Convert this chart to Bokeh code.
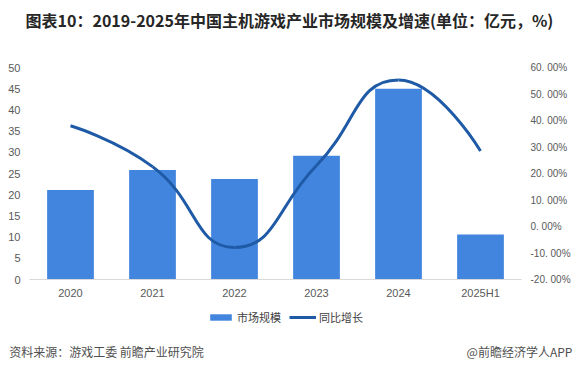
import math
from bokeh.plotting import figure
from bokeh.layouts import column
from bokeh.models import Range1d, LinearAxis, FixedTicker, Legend, LegendItem
from bokeh.embed import file_html
from bokeh.resources import INLINE

# ---- data ----
categories = ["2020", "2021", "2022", "2023", "2024", "2025H1"]
market_size = [21.1, 25.8, 23.7, 29.2, 45.0, 10.6]      # 亿元
growth = [38.0, 22.6, -7.9, 23.0, 55.3, 28.5]            # %
left_ticks = [0, 5, 10, 15, 20, 25, 30, 35, 40, 45, 50]
right_ticks = [-20, -10, 0, 10, 20, 30, 40, 50, 60]
right_tick_labels = ["-20. 00%", "-10. 00%", "0. 00%", "10. 00%", "20. 00%",
                     "30. 00%", "40. 00%", "50. 00%", "60. 00%"]
series_names = ["市场规模", "同比增长"]

title_text = "图表10：2019-2025年中国主机游戏产业市场规模及增速(单位：亿元，%)"
title_center = [260]          # px from the frame's left edge
footer_texts = ["资料来源：游戏工委 前瞻产业研究院", "@前瞻经济学人APP"]
footer_centers = [77, 490]    # px from the frame's left edge

xs = list(range(len(categories)))

BAR_COLOR = "#4285DE"
LINE_COLOR = "#1F5AA6"
TICK_COLOR = "#595959"
CJK = "Noto Sans CJK SC"
LAT = "Liberation Sans"
W = 579
BL, BR = 29, 58
FRAME_W = W - BL - BR


def plain_axis(ax, font, size, color, standoff):
    ax.axis_line_color = None
    ax.major_tick_line_color = None
    ax.minor_tick_line_color = None
    ax.major_tick_out = 0
    ax.major_tick_in = 0
    ax.minor_tick_out = 0
    ax.minor_tick_in = 0
    ax.major_label_standoff = standoff
    ax.major_label_text_font = font
    ax.major_label_text_font_size = size
    ax.major_label_text_color = color


def strip_fig(h, top, bottom):
    f = figure(width=W, height=h, output_backend="svg", toolbar_location=None,
               x_range=Range1d(0, FRAME_W), y_range=Range1d(0, 1), y_axis_type=None,
               min_border_left=BL, min_border_right=BR,
               min_border_top=top, min_border_bottom=bottom)
    f.outline_line_color = None
    f.xgrid.visible = False
    f.ygrid.visible = False
    return f


# ================= header: title as a text-only axis =================
head = strip_fig(40, 0, 39)
ha = head.xaxis[0]
ha.ticker = FixedTicker(ticks=title_center)
ha.major_label_overrides = {title_center[0]: title_text}
plain_axis(ha, CJK, "16px", "#262626", 6)
ha.major_label_text_font_style = "bold"

# ================= main chart =================
p = figure(width=W, height=261, output_backend="svg", toolbar_location=None,
           x_range=Range1d(-0.5, len(categories) - 0.5), y_range=Range1d(0, 50),
           min_border_left=BL, min_border_right=BR, min_border_top=27, min_border_bottom=21)
p.outline_line_color = None
p.xgrid.visible = False
p.ygrid.visible = False

bars = p.vbar(x=xs, top=market_size, width=0.57, fill_color=BAR_COLOR, line_color=None)

p.extra_y_ranges = {"g": Range1d(-20, 60)}


def smooth_segments(xv, yv, smooth=0.5, sx=82.0, sy=2.66):
    n = len(xv)
    segs = []
    cpx0, cpy0 = xv[0], yv[0]
    for i in range(1, n):
        x, y = xv[i], yv[i]
        px, py = xv[i - 1], yv[i - 1]
        if i == n - 1:
            cpx1, cpy1 = x, y
            ncx, ncy = x, y
        else:
            nx, ny = xv[i + 1], yv[i + 1]
            vx, vy = nx - px, ny - py
            lp = math.hypot((x - px) * sx, (y - py) * sy)
            ln = math.hypot((nx - x) * sx, (ny - y) * sy)
            r = ln / (ln + lp)
            ncx = x + vx * smooth * r
            ncy = y + vy * smooth * r
            ncx = max(min(ncx, max(nx, x)), min(nx, x))
            ncy = max(min(ncy, max(ny, y)), min(ny, y))
            vx, vy = ncx - x, ncy - y
            cpx1 = x - vx * lp / ln
            cpy1 = y - vy * lp / ln
            cpx1 = max(min(cpx1, max(px, x)), min(px, x))
            cpy1 = max(min(cpy1, max(py, y)), min(py, y))
            vx, vy = x - cpx1, y - cpy1
            ncx = x + vx * ln / lp
            ncy = y + vy * ln / lp
        segs.append((px, py, cpx0, cpy0, cpx1, cpy1, x, y))
        cpx0, cpy0 = ncx, ncy
    return segs


segs = smooth_segments(xs, growth)
p.bezier(x0=[s[0] for s in segs], y0=[s[1] for s in segs],
         cx0=[s[2] for s in segs], cy0=[s[3] for s in segs],
         cx1=[s[4] for s in segs], cy1=[s[5] for s in segs],
         x1=[s[6] for s in segs], y1=[s[7] for s in segs],
         line_color=LINE_COLOR, line_width=3, y_range_name="g")

xa = p.xaxis[0]
xa.ticker = FixedTicker(ticks=xs)
xa.major_label_overrides = {i: c for i, c in zip(xs, categories)}
plain_axis(xa, LAT, "11px", TICK_COLOR, 7)
xa.axis_line_color = "#D9D9D9"

ya = p.yaxis[0]
ya.ticker = FixedTicker(ticks=left_ticks)
plain_axis(ya, LAT, "11px", TICK_COLOR, 9)

ra = LinearAxis(y_range_name="g", ticker=FixedTicker(ticks=right_ticks),
                major_label_overrides={t: l for t, l in zip(right_ticks, right_tick_labels)})
plain_axis(ra, LAT, "10px", TICK_COLOR, 9)
p.add_layout(ra, "right")

# ================= footer: legend + source line =================
foot = strip_fig(70, 0, 32)
nan = float("nan")
proxy_bar = foot.vbar(x=[nan], top=[nan], width=1, fill_color=BAR_COLOR, line_color=None)
proxy_line = foot.line(x=[nan], y=[nan], line_color=LINE_COLOR, line_width=3)
legend = Legend(items=[LegendItem(label=series_names[0], renderers=[proxy_bar]),
                       LegendItem(label=series_names[1], renderers=[proxy_line])],
                orientation="horizontal", location=(178, 14),
                glyph_width=27, glyph_height=8, label_height=15,
                label_standoff=3, spacing=8, padding=0, margin=0,
                border_line_color=None, background_fill_alpha=0,
                label_text_font=CJK, label_text_font_size="11px",
                label_text_color="#404040")
foot.add_layout(legend)

fa = foot.xaxis[0]
fa.ticker = FixedTicker(ticks=footer_centers)
fa.major_label_overrides = {c: t for c, t in zip(footer_centers, footer_texts)}
plain_axis(fa, CJK, "12px", "#505050", 3)

layout = column(head, p, foot, spacing=0)
open("out.html", "w").write(file_html(layout, INLINE))
